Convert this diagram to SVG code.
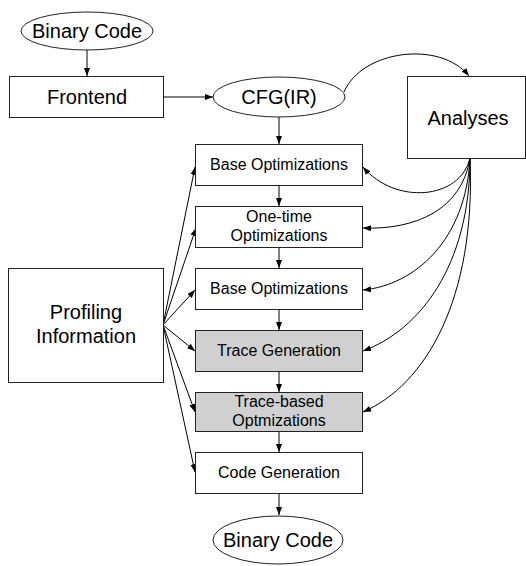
<svg xmlns="http://www.w3.org/2000/svg" width="526" height="566" viewBox="0 0 526 566">
<style>
.n{fill:#fff;stroke:#222;stroke-width:1}
.g{fill:#d0d0d0;stroke:#222;stroke-width:1}
.t{font-family:"Liberation Sans",Arial,sans-serif;fill:#000;text-anchor:middle}
.L{font-size:20px}
.s{font-size:16px}
.c{fill:none;stroke:#000;stroke-width:1;marker-end:url(#a)}
</style>
<defs>
<marker id="a" viewBox="0 0 8 6" refX="8" refY="3" markerWidth="8" markerHeight="6" markerUnits="userSpaceOnUse" orient="auto">
<path d="M0,0 L8,3 L0,6 z" fill="#000"/>
</marker>
</defs>
<g id="connectors">
<path class="c" d="M87,50 L87,76"/>
<path class="c" d="M163,97 L213,97"/>
<path class="c" d="M344,92 C362,50 440,40 469,76"/>
<path class="c" d="M279,117 L279,144"/>
<path class="c" d="M279,185 L279,206"/>
<path class="c" d="M279,247 L279,268"/>
<path class="c" d="M279,309 L279,330"/>
<path class="c" d="M279,371 L279,392"/>
<path class="c" d="M279,431 L279,452"/>
<path class="c" d="M279,493 L279,515"/>
<path class="c" d="M163,325 L195,167"/>
<path class="c" d="M163,325 L196,228"/>
<path class="c" d="M163,325 L195,290"/>
<path class="c" d="M163,325 L195,351"/>
<path class="c" d="M163,325 L195,412"/>
<path class="c" d="M163,325 L195,472"/>
<path class="c" d="M470,158 C460,200 395,205 363,167"/>
<path class="c" d="M470,158 C462,210 415,230 363,228"/>
<path class="c" d="M470,158 C466,240 415,285 363,290"/>
<path class="c" d="M470,158 C470,265 420,330 363,351"/>
<path class="c" d="M470,158 C476,300 425,385 363,412"/>
</g>
<g id="binary-code-in">
<ellipse class="n" cx="87" cy="31" rx="66" ry="19"/>
<text class="t L" x="87" y="38">Binary Code</text>
</g>
<g id="frontend">
<rect class="n" x="9.5" y="76.5" width="154" height="41"/>
<text class="t L" x="87" y="104">Frontend</text>
</g>
<g id="cfg">
<ellipse class="n" cx="279" cy="97" rx="66" ry="20"/>
<text class="t L" x="279" y="104">CFG(IR)</text>
</g>
<g id="analyses">
<rect class="n" x="407.5" y="76.5" width="118" height="82"/>
<text class="t L" x="468" y="125">Analyses</text>
</g>
<g id="profiling">
<rect class="n" x="8.5" y="268.5" width="155" height="114"/>
<text class="t L" x="86" y="319">Profiling</text>
<text class="t L" x="86" y="343">Information</text>
</g>
<g id="base-opt-1">
<rect class="n" x="195.5" y="144.5" width="167" height="41"/>
<text class="t s" x="279" y="170">Base Optimizations</text>
</g>
<g id="one-time-opt">
<rect class="n" x="195.5" y="206.5" width="167" height="41"/>
<text class="t s" x="279" y="222">One-time</text>
<text class="t s" x="279" y="241">Optimizations</text>
</g>
<g id="base-opt-2">
<rect class="n" x="195.5" y="268.5" width="167" height="41"/>
<text class="t s" x="279" y="294">Base Optimizations</text>
</g>
<g id="trace-gen">
<rect class="g" x="195.5" y="330.5" width="167" height="41"/>
<text class="t s" x="279" y="356">Trace Generation</text>
</g>
<g id="trace-based-opt">
<rect class="g" x="195.5" y="392.5" width="167" height="39"/>
<text class="t s" x="279" y="407">Trace-based</text>
<text class="t s" x="279" y="426">Optmizations</text>
</g>
<g id="code-gen">
<rect class="n" x="195.5" y="452.5" width="167" height="41"/>
<text class="t s" x="279" y="478">Code Generation</text>
</g>
<g id="binary-code-out">
<ellipse class="n" cx="278" cy="540" rx="65" ry="24"/>
<text class="t L" x="278" y="547">Binary Code</text>
</g>
</svg>
